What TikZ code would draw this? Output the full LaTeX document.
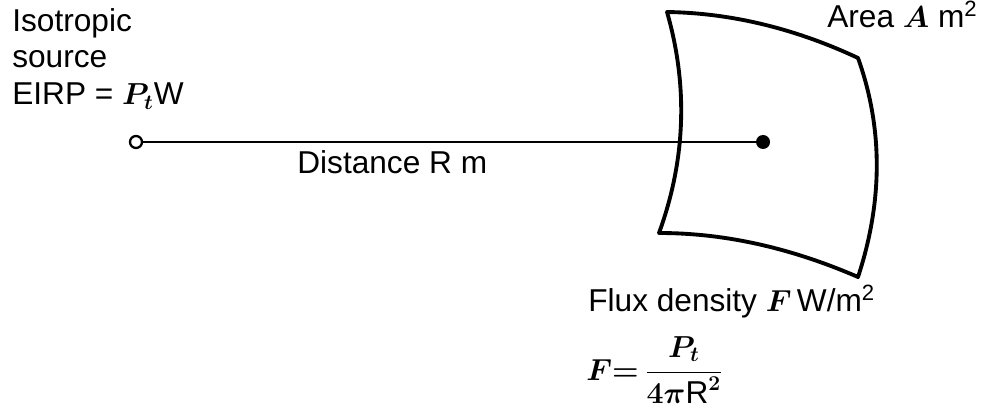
\documentclass[tikz,border=0pt]{standalone}
\usepackage{amsmath}
\usepackage{fontspec}
\setmainfont{Liberation Sans}
\usepackage{tikz}

\begin{document}
\begin{tikzpicture}[x=0.02cm, y=-0.02cm,
  lbl/.style={font=\fontsize{18}{21}\selectfont\mathversion{bold}, inner sep=0pt, anchor=base west},
  patch/.style={line width=2.2pt, line join=round},
  ray/.style={line width=1.4pt},
  srcpt/.style={circle, draw, line width=1.3pt, fill=white, inner sep=0pt, minimum size=0.24cm},
  tgtpt/.style={circle, fill, inner sep=0pt, minimum size=0.28cm}
]
  \useasboundingbox (0,0) rectangle (986,411);
  % curved receiving surface
  \coordinate (tl) at (667,12);
  \coordinate (tr) at (858,58);
  \coordinate (br) at (858,277);
  \coordinate (bl) at (659,233);
  \draw[patch] (tl) .. controls (730,13) and (794,28) .. (tr)
    .. controls (883,128) and (883,201) .. (br)
    .. controls (791,248) and (725,233) .. (bl)
    .. controls (686,159) and (688,85) .. cycle;
  % source and point on the surface
  \node[srcpt] (src) at (136,142) {};
  \node[tgtpt] (tgt) at (763,142) {};
  \draw[ray] (src) -- (tgt);
  % labels
  \node[lbl] (iso) at (12,32) {Isotropic};
  \node[lbl] (srcw) at (12,68) {source};
  \node[lbl] (eirp) at (12,105) {EIRP = $P_t$W};
  \node[lbl] (dist) at (297,174) {Distance R m};
  \node[lbl] (area) at (827,28) {Area $A$ m\textsuperscript{2}};
  \node[lbl] (flux) at (588,312) {Flux density $F$\,W/m\textsuperscript{2}};
  \node[lbl] (form) at (586,380) {$F{=}\,\dfrac{P_t}{4\pi\text{R}^2}$};
\end{tikzpicture}
\end{document}
